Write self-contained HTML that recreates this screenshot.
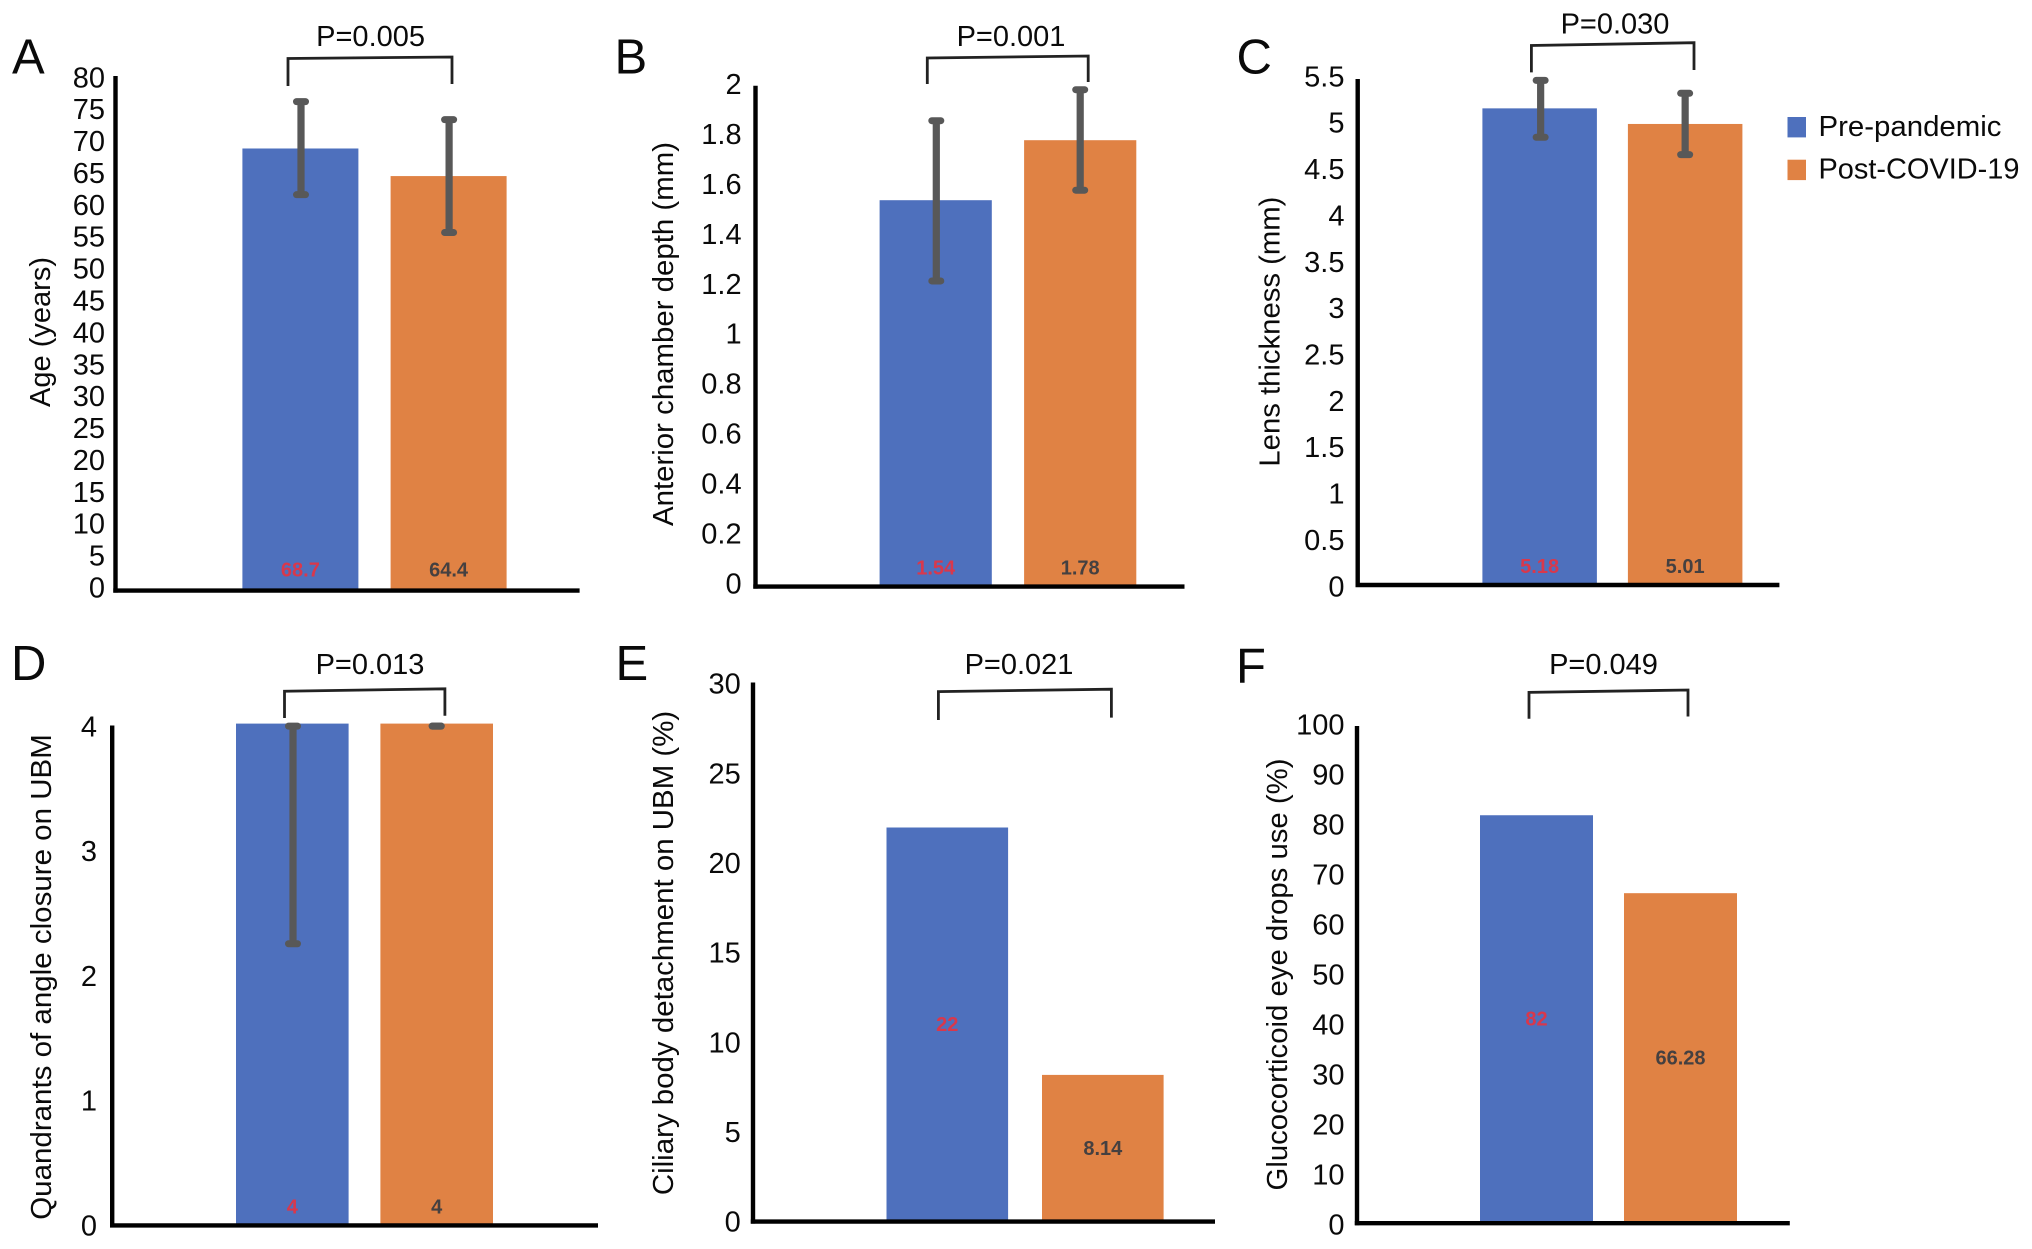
<!DOCTYPE html>
<html lang="en">
<head>
<meta charset="utf-8">
<title>Pre-pandemic vs Post-COVID-19 comparison</title>
<style>
html,body{margin:0;padding:0;background:#fff;width:2032px;height:1249px;overflow:hidden}
svg{display:block}
text{font-family:"Liberation Sans",Arial,sans-serif;fill:#0a0a0a}
</style>
</head>
<body>
<svg id="figure" xmlns="http://www.w3.org/2000/svg" width="2032" height="1249" viewBox="0 0 2032 1249">
  <rect x="0" y="0" width="2032" height="1249" fill="#ffffff"/>
</svg>
<script>
// ---- data ----
const seriesNames = ['Pre-pandemic', 'Post-COVID-19'];

const ageValues = [68.7, 64.4];
const ageErrLow = [61.5, 55.6];
const ageErrHigh = [76, 73.2];
const ageTicks = [0, 5, 10, 15, 20, 25, 30, 35, 40, 45, 50, 55, 60, 65, 70, 75, 80];

const acdValues = [1.54, 1.78];
const acdErrLow = [1.217, 1.58];
const acdErrHigh = [1.858, 1.982];
const acdTicks = [0, 0.2, 0.4, 0.6, 0.8, 1, 1.2, 1.4, 1.6, 1.8, 2];

const lensValues = [5.18, 5.01];
const lensErrLow = [4.865, 4.676];
const lensErrHigh = [5.485, 5.344];
const lensTicks = [0, 0.5, 1, 1.5, 2, 2.5, 3, 3.5, 4, 4.5, 5, 5.5];

const quadrantValues = [4, 4];
const quadrantErrLow = [2.24, 3.98];
const quadrantErrHigh = [3.98, 3.98];
const quadrantTicks = [0, 1, 2, 3, 4];

const ciliaryValues = [22, 8.14];
const ciliaryTicks = [0, 5, 10, 15, 20, 25, 30];

const steroidValues = [82, 66.28];
const steroidTicks = [0, 10, 20, 30, 40, 50, 60, 70, 80, 90, 100];

// ---- layout of each panel (geometry only) ----
const panels = [
  { id: 'a', letter: 'A', letterX: 12, letterY: 73.5, title: 'Age (years)', titleX: 50, titleCY: 332, titleLen: 150,
    values: ageValues, low: ageErrLow, high: ageErrHigh, ticks: ageTicks,
    axisX: 115.5, axisTop: 76, axisRight: 579.6, base: 589.2, plotTop: 76,
    labelRight: 105, label0: 587.2, labelMax: 77,
    bar0: 242.4, barW: 116, barStep: 148.2, inset: 20, midLabel: false, pText: 'P=0.005', pX: 370.6, pY: 45.9,
    br: [288, 58.5, 452, 57, 86, 84], errDx: [0.6, 0.5] },
  { id: 'b', letter: 'B', letterX: 614.5, letterY: 73.5, title: 'Anterior chamber depth (mm)', titleX: 673, titleCY: 334, titleLen: 384,
    values: acdValues, low: acdErrLow, high: acdErrHigh, ticks: acdTicks,
    axisX: 755.5, axisTop: 85.8, axisRight: 1184.5, base: 585.2, plotTop: 85.2,
    labelRight: 741.6, label0: 583, labelMax: 83.8,
    bar0: 879.6, barW: 112.2, barStep: 144.5, inset: 18, midLabel: false, pText: 'P=0.001', pX: 1011, pY: 45.9,
    br: [927.3, 58, 1088.2, 56, 84, 82], errDx: [0.6, 0] },
  { id: 'c', letter: 'C', letterX: 1236.5, letterY: 73.5, title: 'Lens thickness (mm)', titleX: 1279.4, titleCY: 331.6, titleLen: 270,
    values: lensValues, low: lensErrLow, high: lensErrHigh, ticks: lensTicks,
    axisX: 1357.7, axisTop: 79, axisRight: 1779.4, base: 583.6, plotTop: 79,
    labelRight: 1344.5, label0: 586, labelMax: 76,
    bar0: 1482.4, barW: 114.5, barStep: 145.5, inset: 18, midLabel: false, pText: 'P=0.030', pX: 1615, pY: 33.6,
    br: [1531.4, 45.5, 1694, 42.7, 72.4, 70], errDx: [1, 0] },
  { id: 'd', letter: 'D', letterX: 11, letterY: 680, title: 'Quandrants of angle closure on UBM', titleX: 51, titleCY: 977, titleLen: 485.6,
    values: quadrantValues, low: quadrantErrLow, high: quadrantErrHigh, ticks: quadrantTicks,
    axisX: 112.2, axisTop: 725.5, axisRight: 598, base: 1224, plotTop: 723.6,
    labelRight: 97, label0: 1225, labelMax: 726,
    bar0: 236, barW: 112.6, barStep: 144.4, inset: 17.6, midLabel: false, pText: 'P=0.013', pX: 370, pY: 674.2,
    br: [284.5, 691.2, 444.9, 688.8, 718, 715.7], errDx: [0.7, 0] },
  { id: 'e', letter: 'E', letterX: 615.5, letterY: 680, title: 'Ciliary body detachment on UBM (%)', titleX: 673, titleCY: 953, titleLen: 484.4,
    values: ciliaryValues, low: null, high: null, ticks: ciliaryTicks,
    axisX: 753, axisTop: 682.5, axisRight: 1215, base: 1220.2, plotTop: 684.7,
    labelRight: 740.8, label0: 1221.4, labelMax: 683.3,
    bar0: 886.5, barW: 121.6, barStep: 155.5, inset: 0, midLabel: true, pText: 'P=0.021', pX: 1019, pY: 674.2,
    br: [938.4, 691.6, 1111.4, 689.2, 720, 717.6], errDx: [0, 0] },
  { id: 'f', letter: 'F', letterX: 1236, letterY: 682.5, title: 'Glucocorticoid eye drops use (%)', titleX: 1287, titleCY: 974.5, titleLen: 432,
    values: steroidValues, low: null, high: null, ticks: steroidTicks,
    axisX: 1357, axisTop: 726, axisRight: 1789.8, base: 1221.8, plotTop: 726,
    labelRight: 1344.5, label0: 1224, labelMax: 724,
    bar0: 1480, barW: 113, barStep: 144, inset: 0, midLabel: true, pText: 'P=0.049', pX: 1603.5, pY: 674.2,
    br: [1529, 692.4, 1688, 690, 718.8, 716.5], errDx: [0, 0] }
];

const seriesColors = ['#4e70bd', '#e08244'];
const valueColors = ['#d8384c', '#454040'];

const svg = document.getElementById('figure');
const NS = 'http://www.w3.org/2000/svg';

function make(tag, attrs, name, parent) {
  const el = document.createElementNS(NS, tag);
  for (const k in attrs) el.setAttribute(k, attrs[k]);
  
  
  (parent || svg).appendChild(el);
  return el;
}

function label(str, attrs, name, parent) {
  const el = make('text', attrs, name, parent);
  el.textContent = str;
  return el;
}

panels.forEach(function (p) {
  const domainMax = p.ticks[p.ticks.length - 1];
  const yScale = function (v) { return p.base - (v / domainMax) * (p.base - p.plotTop); };
  const yLabelScale = function (v) { return p.label0 - (v / domainMax) * (p.label0 - p.labelMax); };
  const xBand = function (i) { return p.bar0 + i * p.barStep; };

  const g = make('g', {}, 'panel-' + p.id);

  label(p.letter, { x: p.letterX, y: p.letterY, 'font-size': 49 }, 'panel-letter-' + p.id, g);

  // bars
  p.values.forEach(function (v, i) {
    make('rect', { x: xBand(i), y: yScale(v), width: p.barW, height: p.base - yScale(v), fill: seriesColors[i] },
      'bar-' + p.id + '-' + seriesNames[i].toLowerCase(), g);
  });

  // error bars
  if (p.low && p.high) {
    p.values.forEach(function (v, i) {
      const cx = xBand(i) + p.barW / 2 + p.errDx[i];
      const yHi = yScale(p.high[i]);
      const yLo = yScale(p.low[i]);
      const eg = make('g', { fill: '#585858' }, 'error-bar-' + p.id + '-' + i, g);
      make('rect', { x: cx - 3.6, y: yHi, width: 7.2, height: yLo - yHi }, 'error-stem', eg);
      make('rect', { x: cx - 8, y: yHi - 3.5, width: 16, height: 7, rx: 3.5 }, 'error-cap-upper', eg);
      make('rect', { x: cx - 8, y: yLo - 3.5, width: 16, height: 7, rx: 3.5 }, 'error-cap-lower', eg);
    });
  }

  // printed values
  p.values.forEach(function (v, i) {
    const cx = xBand(i) + p.barW / 2;
    const cy = p.midLabel ? yScale(v / 2) : p.base - p.inset;
    label(String(v), { x: cx, y: cy + 7.2, 'font-size': 20, 'font-weight': 700, 'text-anchor': 'middle', style: 'fill:' + valueColors[i] },
      'value-label-' + p.id + '-' + i, g);
  });

  // axes
  make('line', { x1: p.axisX, y1: p.axisTop, x2: p.axisX, y2: p.base + 3.4, stroke: '#000', 'stroke-width': 4.4 }, 'y-axis-' + p.id, g);
  make('line', { x1: p.axisX - 2.2, y1: p.base + 1.4, x2: p.axisRight, y2: p.base + 1.4, stroke: '#000', 'stroke-width': 4.4 }, 'x-axis-' + p.id, g);

  // tick labels
  p.ticks.forEach(function (t) {
    label(String(t), { x: p.labelRight, y: yLabelScale(t) + 10.3, 'font-size': 29, 'text-anchor': 'end' },
      'y-tick-label-' + p.id + '-' + t, g);
  });

  // y axis title
  label(p.title, {
    transform: 'translate(' + p.titleX + ',' + p.titleCY + ') rotate(-90)',
    x: 0, y: 0, 'font-size': 28.5, 'text-anchor': 'middle',
    textLength: p.titleLen, lengthAdjust: 'spacingAndGlyphs'
  }, 'y-axis-title-' + p.id, g);

  // significance bracket
  const b = p.br;
  make('polyline', {
    points: b[0] + ',' + b[4] + ' ' + b[0] + ',' + b[1] + ' ' + b[2] + ',' + b[3] + ' ' + b[2] + ',' + b[5],
    fill: 'none', stroke: '#222222', 'stroke-width': 2.8
  }, 'significance-bracket-' + p.id, g);
  label(p.pText, { x: p.pX, y: p.pY, 'font-size': 29, 'text-anchor': 'middle' }, 'p-value-' + p.id, g);
});

// legend
const legend = make('g', {}, 'legend');
const legendRowY = [117, 159.7];
const legendTextLen = [183, 201];
seriesNames.forEach(function (name, i) {
  make('rect', { x: 1787.5, y: legendRowY[i], width: 18.5, height: 20.4, fill: seriesColors[i] }, 'legend-swatch-' + i, legend);
  label(name, { x: 1818.5, y: legendRowY[i] + 19, 'font-size': 29, textLength: legendTextLen[i], lengthAdjust: 'spacingAndGlyphs' }, 'legend-label-' + i, legend);
});
</script>
</body>
</html>
